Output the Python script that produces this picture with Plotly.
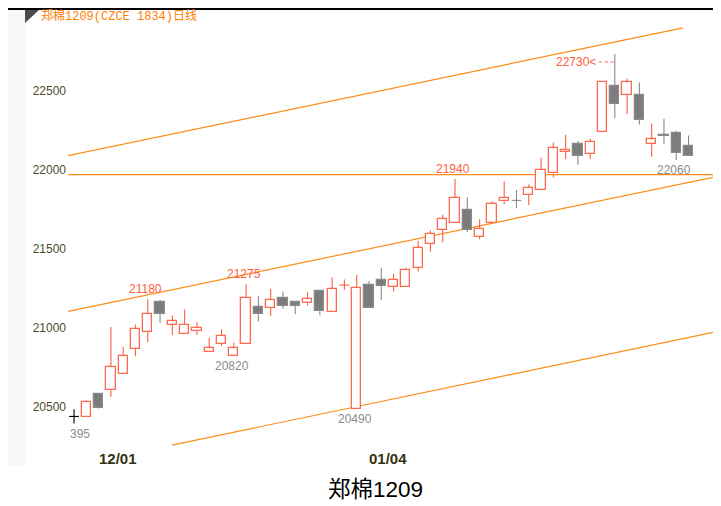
import plotly.graph_objects as go

# ---------------- data ----------------
dates = [
    "2011-11-29", "2011-11-30", "2011-12-01", "2011-12-02",
    "2011-12-05", "2011-12-06", "2011-12-07", "2011-12-08", "2011-12-09",
    "2011-12-12", "2011-12-13", "2011-12-14", "2011-12-15", "2011-12-16",
    "2011-12-19", "2011-12-20", "2011-12-21", "2011-12-22", "2011-12-23",
    "2011-12-26", "2011-12-27", "2011-12-28", "2011-12-29", "2011-12-30",
    "2012-01-04", "2012-01-05", "2012-01-06",
    "2012-01-09", "2012-01-10", "2012-01-11", "2012-01-12", "2012-01-13",
    "2012-01-16", "2012-01-17", "2012-01-18", "2012-01-19", "2012-01-20",
    "2012-01-30", "2012-01-31", "2012-02-01", "2012-02-02", "2012-02-03",
    "2012-02-06", "2012-02-07", "2012-02-08", "2012-02-09", "2012-02-10",
    "2012-02-13", "2012-02-14", "2012-02-15", "2012-02-16",
]
opens = [20440, 20435, 20580, 20605, 20705, 20865, 20975, 21160, 21020, 20960,
         20980, 20850, 20900, 20820, 20895, 21130, 21125, 21190, 21160, 21155,
         21235, 21100, 21270, 20490, 21270, 21305, 21260, 21260, 21380, 21530,
         21620, 21660, 21745, 21575, 21660, 21800, 21805, 21840, 21870, 21975,
         22110, 22160, 22100, 22235, 22525, 22470, 22470, 22160, 22216, 22230,
         22150]
highs = [20485, 20540, 20585, 21005, 20880, 21020, 21180, 21175, 21080, 21115,
         21035, 20935, 20990, 20905, 21275, 21200, 21245, 21230, 21170, 21225,
         21240, 21320, 21305, 21335, 21295, 21380, 21340, 21380, 21550, 21615,
         21715, 21940, 21825, 21685, 21800, 21925, 21870, 21905, 22075, 22170,
         22220, 22180, 22195, 22550, 22730, 22575, 22550, 22290, 22320, 22245,
         22215]
lows = [20395, 20435, 20490, 20565, 20705, 20820, 20910, 21030, 20955, 20960,
        20955, 20850, 20885, 20820, 20895, 21040, 21075, 21120, 21085, 21140,
        21080, 21100, 21240, 20490, 21125, 21175, 21230, 21260, 21355, 21480,
        21540, 21660, 21605, 21560, 21660, 21780, 21755, 21775, 21870, 21950,
        22065, 22030, 22065, 22235, 22325, 22350, 22285, 22080, 22160, 22060,
        22085]
closes = [20440, 20530, 20495, 20755, 20820, 20995, 21090, 21090, 21040, 21020,
          21000, 20870, 20950, 20870, 21190, 21085, 21175, 21140, 21140, 21180,
          21105, 21245, 21270, 21250, 21125, 21265, 21305, 21365, 21505, 21595,
          21685, 21820, 21620, 21625, 21785, 21820, 21805, 21885, 22000, 22135,
          22125, 22085, 22175, 22550, 22415, 22550, 22315, 22190, 22210, 22105,
          22085]

ytick_vals = [20500, 21000, 21500, 22000, 22500]
xtick_labels = ["12/01", "01/04"]
xtick_dates = ["2011-12-01", "2012-01-04"]

# drawn trend / channel lines: start (index, price) -> end (index, price)
line_x0 = [-0.49, -0.49, -0.49, 7.97]
line_y0 = [22087, 21104, 21968, 20259]
line_x1 = [49.55, 52.65, 52.65, 52.65]
line_y1 = [22895, 21961, 21968, 20982]

# marked extremes
high_mark_idx = [6, 14, 31]
peak_idx = 44
low_mark_idx = [13, 23, 49]
first_low_idx = 0

# ---------------- styles ----------------
RED = "#FF5E3E"
RED_BODY = "#FF6A4C"
GRAY = "#8a8a8a"
GRAY_FILL = "#7c7c7c"
ORANGE = "#FF8C1A"
TICK_COLOR = "#4b4b30"
FONT = "Liberation Sans, Arial, sans-serif"

# page has an 8px body margin: the figure div starts at (8, 8)
PAGE_OFF = 8
PL, PR, PT, PB = 68, 721, 10, 466   # plot area in page pixels
PW, PH = PR - PL, PB - PT


def px(xp):
    return (xp - PL) / PW


def py(yp):
    return (PB - yp) / PH


X_RANGE = [-0.49, 52.64]
Y_RANGE = [20126.9, 23007.6]
PX_PER_PRICE = PH / (Y_RANGE[1] - Y_RANGE[0])
PX_PER_IDX = PW / (X_RANGE[1] - X_RANGE[0])

n = len(opens)

# direction of each candle
dirs = []
for i in range(n):
    if closes[i] > opens[i]:
        dirs.append("up")
    elif closes[i] < opens[i]:
        dirs.append("down")
    else:
        if i == 0:
            dirs.append("none")
        else:
            dirs.append("up" if closes[i] >= closes[i - 1] else "down")

fig = go.Figure()

# wicks
wick_groups = {"up": ([], []), "down": ([], []), "none": ([], [])}
for i in range(n):
    xs, ys = wick_groups[dirs[i]]
    top = max(opens[i], closes[i])
    bot = min(opens[i], closes[i])
    if opens[i] == closes[i]:
        xs += [i, i, None, i - 0.4, i + 0.4, None]
        ys += [highs[i], lows[i], None, opens[i], opens[i], None]
    else:
        if highs[i] > top:
            xs += [i, i, None]
            ys += [highs[i], top, None]
        if lows[i] < bot:
            xs += [i, i, None]
            ys += [bot, lows[i], None]
wick_colors = {"up": RED, "down": GRAY, "none": "#000000"}
for k, (xs, ys) in wick_groups.items():
    if xs:
        fig.add_trace(go.Scatter(x=xs, y=ys, mode="lines",
                                 line=dict(color=wick_colors[k], width=1.1),
                                 hoverinfo="skip", showlegend=False))

# bodies
for k, fill, edge in [("up", "#ffffff", RED_BODY), ("down", GRAY_FILL, GRAY)]:
    bx = [i for i in range(n) if dirs[i] == k and opens[i] != closes[i]]
    fig.add_trace(go.Bar(
        x=bx,
        base=[min(opens[i], closes[i]) for i in bx],
        y=[abs(closes[i] - opens[i]) for i in bx],
        width=0.75,
        marker=dict(color=fill, line=dict(color=edge, width=1.3)),
        customdata=[dates[i] for i in bx],
        hovertemplate="%{customdata}<extra></extra>",
        showlegend=False,
    ))

shapes = []
for x0, y0, x1, y1 in zip(line_x0, line_y0, line_x1, line_y1):
    shapes.append(dict(type="line", xref="x", yref="y", x0=x0, y0=y0, x1=x1, y1=y1,
                       line=dict(color=ORANGE, width=1.2), layer="below"))

annotations = []
lab_font_red = dict(family=FONT, size=12, color=RED)
lab_font_gray = dict(family=FONT, size=12, color="#8c8c8c")
for i in high_mark_idx:
    annotations.append(dict(x=i, y=highs[i], xref="x", yref="y", text=str(highs[i]),
                            showarrow=False, yanchor="bottom", xshift=-2, yshift=1,
                            font=lab_font_red))
for i in low_mark_idx:
    annotations.append(dict(x=i, y=lows[i], xref="x", yref="y", text=str(lows[i]),
                            showarrow=False, yanchor="top", xshift=-2, yshift=-1,
                            font=lab_font_gray))
# first low label is clipped at the plot edge in the reference
annotations.append(dict(x=first_low_idx, y=lows[first_low_idx], xref="x", yref="y",
                        text=str(lows[first_low_idx])[2:], showarrow=False,
                        yanchor="top", xanchor="left", xshift=-6, yshift=-1,
                        font=lab_font_gray))
# peak label with dotted leader
peak_off_px = 8
peak_gap_px = 17
annotations.append(dict(x=peak_idx, y=highs[peak_idx], xref="x", yref="y",
                        text=str(highs[peak_idx]) + "<", showarrow=False,
                        xanchor="right", yanchor="middle", xshift=-peak_gap_px,
                        yshift=-peak_off_px, font=lab_font_red))
shapes.append(dict(type="line", xref="x", yref="y",
                   x0=peak_idx - (peak_gap_px - 1) / PX_PER_IDX, x1=peak_idx,
                   y0=highs[peak_idx] - peak_off_px / PX_PER_PRICE,
                   y1=highs[peak_idx] - peak_off_px / PX_PER_PRICE,
                   line=dict(color=RED, width=1, dash="dot")))

# date labels
for lab, d in zip(xtick_labels, xtick_dates):
    annotations.append(dict(x=dates.index(d), y=py(458), xref="x", yref="paper",
                            text="<b>" + lab + "</b>", showarrow=False,
                            xanchor="left", yanchor="middle", xshift=-2,
                            font=dict(family=FONT, size=15, color="#333311")))

# chart header
annotations.append(dict(x=px(39), y=py(15.5), xref="paper", yref="paper",
                        text="郑棉1209(CZCE 1834)日线", showarrow=False,
                        xanchor="left", yanchor="middle",
                        font=dict(family="Liberation Mono, Noto Sans CJK SC", size=12,
                                  color="#FF8000")))
# bottom title
annotations.append(dict(x=px(375.5), y=py(489), xref="paper", yref="paper",
                        text="郑棉1209", showarrow=False, xanchor="center", yanchor="middle",
                        font=dict(family="Liberation Sans, Noto Sans CJK SC", size=22.5,
                                  color="#000000")))

# frame decorations
shapes.append(dict(type="rect", xref="paper", yref="paper",
                   x0=px(PAGE_OFF), x1=px(25), y0=0, y1=py(10),
                   fillcolor="#f8f8f8", line=dict(width=0), layer="below"))
shapes.append(dict(type="line", xref="paper", yref="paper",
                   x0=px(PAGE_OFF), x1=1, y0=py(9), y1=py(9),
                   line=dict(color="#000000", width=2)))
shapes.append(dict(type="path", xref="paper", yref="paper",
                   path="M {a},{b} L {c},{b} L {a},{d} Z".format(
                       a=px(25), b=py(10), c=px(39), d=py(23)),
                   fillcolor="#4a4a4a", line=dict(width=0)))
shapes.append(dict(type="line", xref="paper", yref="paper",
                   x0=px(716), x1=1, y0=py(355), y1=py(355),
                   line=dict(color="#000000", width=1)))

fig.update_layout(
    width=721 - PAGE_OFF, height=506 - PAGE_OFF,
    margin=dict(l=PL - PAGE_OFF, r=0, t=PT - PAGE_OFF, b=506 - PB),
    paper_bgcolor="#ffffff", plot_bgcolor="#ffffff",
    barmode="overlay", bargap=0,
    showlegend=False,
    shapes=shapes, annotations=annotations,
    xaxis=dict(range=X_RANGE, showticklabels=False, showgrid=False, zeroline=False,
               showline=False, ticks="", fixedrange=True),
    yaxis=dict(range=Y_RANGE, tickvals=ytick_vals, ticktext=[str(v) for v in ytick_vals],
               showgrid=False, zeroline=False, showline=False, ticks="",
               tickfont=dict(family=FONT, size=12, color=TICK_COLOR),
               ticklabelstandoff=1, fixedrange=True),
)

fig.write_html("out.html")
